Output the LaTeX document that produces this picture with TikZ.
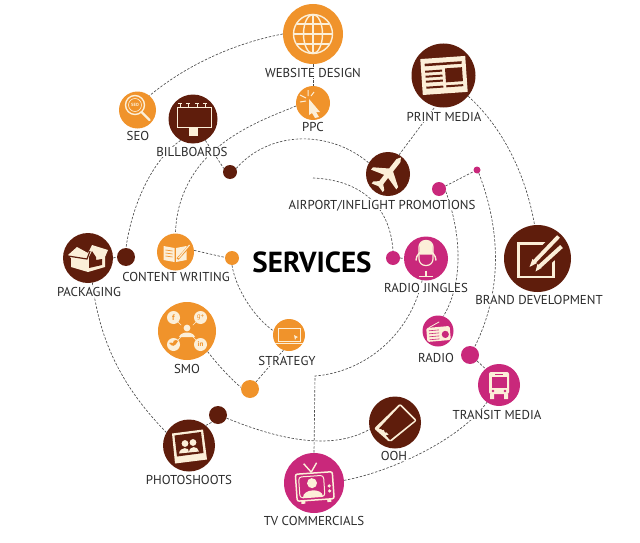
\documentclass[tikz,border=0pt]{standalone}
\usepackage{fontspec}
\setmainfont{PT Sans}
\definecolor{org}{HTML}{F0932B}
\definecolor{brn}{HTML}{5F1D0C}
\definecolor{pnk}{HTML}{C9287B}
\definecolor{crm}{HTML}{FCEFD8}
\definecolor{txt}{HTML}{2A2A2A}
\tikzset{
  disc/.style={circle,inner sep=0pt,minimum size=#1},
  od/.style={disc=#1,fill=org},
  bd/.style={disc=#1,fill=brn},
  pd/.style={disc=#1,fill=pnk},
  lab/.style={font=\fontsize{12.9}{14}\selectfont,text=txt,fill=white,inner xsep=0.5pt,inner ysep=0pt,text height=9.5pt,text depth=0pt},
  dots/.style={draw=black!70,line width=0.65pt,dash pattern=on 2.4pt off 1.6pt},
}
\begin{document}
\begin{tikzpicture}[x=1pt,y=-1pt]
\useasboundingbox (0,0) rectangle (640,543);
% discs
\node[od=60] (web) at (313,34) {};
\node[od=34] (ppc) at (313,103) {};
\node[od=37] (seo) at (137.5,110) {};
\node[bd=49] (bill) at (193,119) {};
\node[bd=14] (d1) at (230,172) {};
\node[bd=64] (print) at (443.5,75.5) {};
\node[bd=44] (air) at (388,174) {};
\node[pd=14] (p1) at (439,189) {};
\node[pd=7] (p2) at (477,170) {};
\node[pd=14] (p3) at (393,258) {};
\node[pd=44] (mic) at (426,258.5) {};
\node[bd=67] (brand) at (537.5,258.5) {};
\node[bd=50] (pack) at (88,258) {};
\node[bd=18] (d2) at (126,257) {};
\node[od=37] (cont) at (175.5,252) {};
\node[od=14] (o1) at (232,258) {};
\node[od=58] (smo) at (187,331) {};
\node[od=32] (strat) at (289,335) {};
\node[od=18] (o2) at (250,389) {};
\node[bd=52] (photo) at (189,445.5) {};
\node[bd=18] (d3) at (218,415) {};
\node[bd=52] (ooh) at (395,422.5) {};
\node[pd=60] (tv) at (314,483) {};
\node[pd=42] (bus) at (499,385) {};
\node[pd=18] (p4) at (470,355) {};
\node[pd=31] (radio) at (438,331) {};
% connectors
\draw[dots] (web.180) .. controls (240,42) and (190,62) .. (seo.50);
\draw[dots] (web.270) -- (ppc.90);
\draw[dots] (bill.240) .. controls (152,160) and (132,205) .. (d2.90);
\draw[dots] (pack.0) -- (d2.180);
\draw[dots] (pack.280) .. controls (100,345) and (125,390) .. (photo.150);
\draw[dots] (photo.50) -- (d3.230);
\draw[dots] (d3.340) .. controls (275,438) and (330,452) .. (ooh.195);
\draw[dots] (ppc.190) .. controls (270,117) and (215,135) .. (190,180) .. controls (180,198) and (176,215) .. (cont.90);
\draw[dots] (bill.300) -- (d1.150);
\draw[dots] (d1.30) .. controls (270,130) and (330,130) .. (air.150);
\draw[dots] (air.60) -- (print.255);
\draw[dots] (print.320) .. controls (500,125) and (525,170) .. (brand.95);
\draw[dots] (p1.25) -- (p2.205);
\draw[dots] (p2.300) .. controls (495,215) and (508,280) .. (p4.60);
\draw[dots] (p4.320) -- (bus.130);
\coordinate (astart) at (313,178);
\draw[dots] (astart) .. controls (360,180) and (390,205) .. (p3.90);
\draw[dots] (p3.0) -- (mic.180);
\draw[dots] (p1.340) .. controls (460,230) and (465,280) .. (radio.70);
\coordinate (bend) at (315,376);
\draw[dots] (mic.260) .. controls (410,335) and (365,372) .. (bend) -- (tv.90);
\draw[dots] (tv.5) .. controls (390,472) and (460,440) .. (bus.235);
\draw[dots] (cont.5) -- (o1.175);
\draw[dots] (o1.270) .. controls (236,290) and (255,318) .. (strat.165);
\draw[dots] (smo.315) .. controls (218,365) and (230,378) .. (o2.170);
\draw[dots] (o2.50) -- (strat.250);
% labels
\node[lab] (lweb) at (313,73) {WEBSITE DESIGN};
\node[lab] (lseo) at (138,135.5) {SEO};
\node[lab] (lbill) at (192,152) {BILLBOARDS};
\node[lab] (lppc) at (313,127) {PPC};
\node[lab] (lprint) at (444,117) {PRINT MEDIA};
\node[lab] (lair) at (382,205) {AIRPORT/INFLIGHT PROMOTIONS};
\node[lab] (lmic) at (426,288) {RADIO JINGLES};
\node[lab] (lbrand) at (539,300) {BRAND DEVELOPMENT};
\node[lab] (lcont) at (176,277) {CONTENT WRITING};
\node[lab] (lpack) at (89,292) {PACKAGING};
\node[lab] (lsmo) at (187,369) {SMO};
\node[lab] (lstrat) at (287,361) {STRATEGY};
\node[lab] (lradio) at (436,358) {RADIO};
\node[lab] (lbus) at (497,415) {TRANSIT MEDIA};
\node[lab] (looh) at (394,456) {OOH};
\node[lab] (lphoto) at (189,480) {PHOTOSHOOTS};
\node[lab] (ltv) at (314,521) {TV COMMERCIALS};
\node[font=\fontsize{29}{30}\selectfont\bfseries,text=black,inner sep=0pt] (title) at (312,262) {SERVICES};
% globe
\begin{scope}[shift={(web.center)}]
\draw[crm,line width=1.4pt] (0,0) circle (19.5);
\draw[crm,line width=1.4pt] (0,0) ellipse (9.5 and 19.5);
\draw[crm,line width=1.4pt] (0,-19.5) -- (0,19.5) (-19.5,0) -- (19.5,0) (-16,-10) -- (16,-10) (-16,10) -- (16,10);
\end{scope}
% ppc
\begin{scope}[shift={(ppc.center)}]
\fill[crm] (-4,-4) -- (7,9) -- (3,9) -- (6,14) -- (2,15) -- (-1,10) -- (-4,12) -- cycle;
\draw[crm,line width=1pt] (-5,-7) -- (-5,-13) (-7,-5) -- (-13,-8) (-7,-2) -- (-13,-1) (-2,-7) -- (1,-11);
\end{scope}
% seo
\begin{scope}[shift={(seo.center)}]
\draw[crm,line width=2.4pt,line cap=round] (4,2) -- (12,10);
\draw[crm,line width=1.4pt] (-2.5,-5) circle (9.5);
\draw[crm,line width=0.6pt] (-2.5,-5) circle (6.5);
\node[font=\fontsize{4.5}{5}\selectfont\bfseries,text=crm,inner sep=0pt] at (-2.5,-5) {SEO};
\end{scope}
% billboard
\begin{scope}[shift={(bill.center)}]
\draw[crm,line width=1pt] (-16,-12) rectangle (18,8);
\fill[crm] (-4,8) rectangle (4.5,17);
\foreach \x in {-13,-5,4,12}{\draw[crm,line width=1pt] (\x,-12) -- (\x,-16) (\x-2,-16) -- (\x+2,-16);}
\end{scope}
% print media
\begin{scope}[shift={(print.center)},rotate=4]
\fill[crm] (-22,-18) rectangle (23,18);
\fill[brn] (-18,-13) rectangle (19,-10.5);
\foreach \y in {-6,-1,4}{\fill[brn] (-18,\y) rectangle (-1,\y+2);}
\fill[brn] (2,-7) rectangle (19,7);
\fill[brn] (-18,10) rectangle (-1,12);
\fill[brn] (2,10) rectangle (19,12);
\end{scope}
% airplane
\begin{scope}[shift={(air.center)},rotate=-38]
\fill[crm] (0,-21) -- (2.5,-17) -- (2.5,-5) -- (16,4) -- (16,7) -- (2.5,3) -- (2.5,11) -- (7,15) -- (7,17.5) -- (0,15.5) -- (-7,17.5) -- (-7,15) -- (-2.5,11) -- (-2.5,3) -- (-16,7) -- (-16,4) -- (-2.5,-5) -- (-2.5,-17) -- cycle;
\end{scope}
% mic
\begin{scope}[shift={(mic.center)}]
\draw[crm,line width=1.2pt,rounded corners=6.5pt] (-7,-18) rectangle (7,7);
\fill[crm] (-6.5,-12) .. controls (-6.5,-20) and (6.5,-20) .. (6.5,-12) -- (6.5,-4) -- (-6.5,-4) -- cycle;
\draw[crm,line width=1.4pt] (-10,2) arc[start angle=180,end angle=360,radius=10];
\draw[crm,line width=1.4pt] (0,12) -- (0,18) (-7,18) -- (7,18);
\end{scope}
% brand
\begin{scope}[shift={(brand.center)}]
\draw[crm,line width=2.5pt] (-19,-15) rectangle (16,18.5);
\draw[brn,line width=11pt] (-3,3) -- (22,-23) (1,9) -- (25,-13);
\draw[crm,line width=3.8pt] (-3,3) -- (21,-22);
\fill[crm] (-8,8.5) -- (-5,0.5) -- (-0.5,4.5) -- cycle;
\draw[crm,line width=4pt] (2,8) -- (24,-12);
\fill[crm] (-2,13) -- (0,5.5) -- (4,9.5) -- cycle;
\end{scope}
% packaging
\begin{scope}[shift={(pack.center)}]
\fill[crm] (-20,-3) -- (-11,-11) -- (0,-5) -- (4,-13) -- (20,-8) -- (17,-1) -- (17,9) -- (0,14) -- (-17,9) -- (-17,0) -- cycle;
\draw[brn,line width=1.2pt] (-20,-2) -- (-1,1) -- (2,-7);
\fill[brn] (1,10) -- (1,-1) -- (4,-7) -- (8,-1) -- (8,2) -- (14,1) -- (14,7) -- cycle;
\end{scope}
% content writing
\begin{scope}[shift={(cont.center)}]
\fill[crm] (-12,-6) -- (-1,-4) -- (-1,10) -- (-12,8) -- cycle;
\fill[crm] (0.5,-4) -- (11,-6) -- (11,8) -- (0.5,10) -- cycle;
\foreach \y in {-2,1,4}{\draw[org,line width=0.7pt] (-10,\y) -- (-3,\y+1);}
\draw[org,line width=2.4pt] (2,7) -- (13,-5);
\draw[crm,line width=1.1pt] (3,6) -- (14,-7);
\end{scope}
% strategy
\begin{scope}[shift={(strat.center)}]
\draw[crm,line width=1pt] (-10.5,-7) rectangle (11,6);
\draw[crm,line width=1pt] (-14,8) -- (14,8);
\fill[crm] (5,0) -- (9,2) -- (7,3) -- (6,5) -- cycle;
\end{scope}
% smo
\begin{scope}[shift={(smo.center)}]
\draw[crm,line width=0.7pt] (-13.5,-13.5) -- (13.5,13.5) (13.5,-13.5) -- (-13.5,13.5);
\foreach \a/\b in {-13.5/-13.5,13.5/-13.5,-13.5/13.5,13.5/13.5}{\fill[crm] (\a,\b) circle (6.5);}
\fill[org] (0,0) circle (8);
\fill[crm] (0,-3) circle (3.4);
\fill[crm] (-8,6) .. controls (-6,0) and (6,0) .. (8,6) -- cycle;
\node[font=\fontsize{8}{8}\selectfont\bfseries,text=org,inner sep=0pt] at (-13.5,-13.5) {f};
\node[font=\fontsize{7}{7}\selectfont,text=org,inner sep=0pt] at (13.5,-13.5) {g+};
\fill[org] (-18,12) .. controls (-15,16) and (-12,16) .. (-9,10) -- (-11,9) .. controls (-13,9) and (-14,10) .. (-14,12) .. controls (-15,12) and (-17,11) .. cycle;
\node[font=\fontsize{7}{7}\selectfont\bfseries,text=org,inner sep=0pt] at (13.5,13.5) {in};
\end{scope}
% radio
\begin{scope}[shift={(radio.center)},rotate=5]
\fill[crm,rounded corners=1.5pt] (-11.5,-4) rectangle (12,10);
\draw[crm,line width=0.8pt] (-9,-4) -- (2,-9);
\foreach \y in {-1,2,5,8}{\draw[pnk,line width=0.6pt] (-9,\y) -- (1,\y);}
\fill[pnk] (7,4) circle (3.6);
\end{scope}
% bus
\begin{scope}[shift={(bus.center)}]
\fill[crm,rounded corners=2pt] (-10,-13) rectangle (10,9);
\fill[crm] (-9,9) rectangle (-5,14) (5,9) rectangle (9,14);
\fill[pnk] (-7.5,-8) rectangle (7.5,3);
\fill[pnk] (-4,-11.5) rectangle (4,-10);
\fill[pnk] (-6,6) circle (1.4) (6,6) circle (1.4);
\end{scope}
% ooh
\begin{scope}[shift={(ooh.center)}]
\fill[crm,rounded corners=2pt] (5,-19) -- (22,-2) -- (-5,20) -- (-21,6) -- cycle;
\fill[brn] (5,-16.5) -- (19.5,-2) -- (-5,17.5) -- (-9,13) -- (-6,12) -- (-12,7) -- (-16,6) -- cycle;
\fill[brn] (-9.5,9) circle (1.2) (-12.5,6.5) circle (1.2);
\end{scope}
% photo
\begin{scope}[shift={(photo.center)}]
\fill[crm] (-17,-12) -- (14,-16) -- (18,14) -- (-14,18) -- cycle;
\fill[brn] (-14.5,-10) -- (12,-13.5) -- (14.5,7.5) -- (-12,11) -- cycle;
\fill[crm] (-4,-2) circle (3.4) (4,-3) circle (3.4);
\fill[crm] (-10,8) .. controls (-9,1) and (1,1) .. (0,7) -- cycle;
\fill[crm] (0,7) .. controls (0,0) and (9,0) .. (10,6) -- cycle;
\end{scope}
% tv
\begin{scope}[shift={(tv.center)},rotate=4]
\draw[crm,line width=1.5pt,rounded corners=2pt] (-18,-10) rectangle (19,17);
\draw[crm,line width=1pt,rounded corners=3pt] (-15,-7) rectangle (10,14);
\fill[crm] (-14,17) rectangle (-10,20) (12,17) rectangle (16,20);
\draw[crm,line width=1.4pt] (-2,-11) -- (-9,-20) (-2,-11) -- (4,-20);
\fill[crm] (-2,0) circle (5);
\fill[crm] (-12,14) .. controls (-12,5) and (8,5) .. (8,14) -- cycle;
\fill[crm] (15,4) circle (1.8) (15,9) circle (1.8);
\end{scope}
\end{tikzpicture}
\end{document}
